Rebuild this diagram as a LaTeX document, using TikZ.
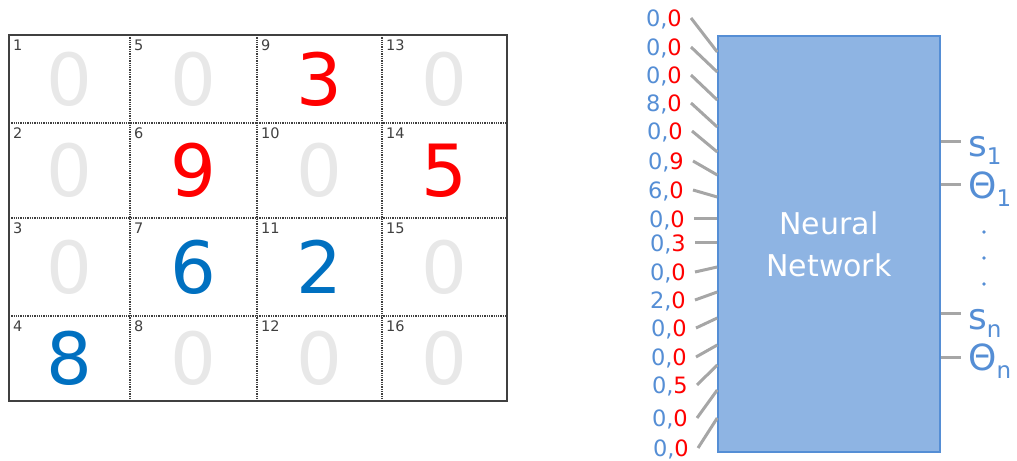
\documentclass[tikz,border=0pt]{standalone}
\usepackage{fontspec}
\setmainfont{DejaVu Sans}
\usepackage{tikz}
\usetikzlibrary{positioning, calc}
\definecolor{digitred}{HTML}{FF0000}
\definecolor{digitblue}{HTML}{0070C0}
\definecolor{digitgrey}{HTML}{E8E8E8}
\definecolor{gridgrey}{HTML}{404040}
\definecolor{netfill}{HTML}{8EB4E3}
\definecolor{netedge}{HTML}{558ED5}
\definecolor{labelblue}{HTML}{558ED5}
\definecolor{wiregrey}{HTML}{A6A6A6}
\newcommand{\px}[1]{\fontsize{#1bp}{#1bp}\selectfont}
\newcommand{\lowsub}[1]{\raisebox{-8bp}{\px{23}#1}}

\begin{document}
\begin{tikzpicture}[x=1bp, y=-1bp,
  cellnum/.style={anchor=north west, inner sep=0pt, font=\px{14.5}, text=gridgrey},
  digit/.style={inner sep=0pt, font=\px{72}},
  gridline/.style={draw=gridgrey, densely dotted, line width=1.3bp},
  inlabel/.style={anchor=east, inner sep=0pt, text height=16.5bp, text depth=0pt,
    font=\px{22.5}, text=labelblue},
  outlabel/.style={anchor=base west, inner sep=0pt, font=\px{36}, text=labelblue},
  wire/.style={draw=wiregrey, line width=3bp},
  dot/.style={circle, fill=labelblue, inner sep=1.4bp},
  net/.style={draw=netedge, line width=1.5bp, fill=netfill,
    minimum width=222bp, minimum height=416bp, text=white, align=center,
    font=\fontsize{30bp}{42bp}\selectfont}]
  \useasboundingbox (0,0) rectangle (1017,461);

  \foreach \x in {130,257,382}
    \draw[gridline] (\x,35) -- (\x,401);
  \foreach \y in {123,218,316}
    \draw[gridline] (9,\y) -- (507,\y);
  \draw[gridgrey, line width=1.6bp] (9,35) rectangle (507,401);

  \foreach \n/\d/\col in {1/0/digitgrey, 2/0/digitgrey, 3/0/digitgrey, 4/8/digitblue,
      5/0/digitgrey, 6/9/digitred, 7/6/digitblue, 8/0/digitgrey,
      9/3/digitred, 10/0/digitgrey, 11/2/digitblue, 12/0/digitgrey,
      13/0/digitgrey, 14/5/digitred, 15/0/digitgrey, 16/0/digitgrey} {
    \pgfmathtruncatemacro{\c}{(\n-1)/4}
    \pgfmathtruncatemacro{\r}{mod(\n-1,4)}
    \pgfmathsetmacro{\xl}{{9,130,257,382,507}[\c]}
    \pgfmathsetmacro{\xr}{{9,130,257,382,507}[\c+1]}
    \pgfmathsetmacro{\yt}{{35,123,218,316,401}[\r]}
    \pgfmathsetmacro{\yb}{{35,123,218,316,401}[\r+1]}
    \node[cellnum] (num\n) at (\xl+4,\yt+5) {\n};
    \node[digit, text=\col] (cell\n) at ({(\xl+\xr)/2},{(\yt+\yb)/2}) {\d};
  }

  \node[net] (nn) at (829,244) {Neural\\Network};

  \foreach \i/\a/\b/\xe/\yc/\e in {1/0/0/682/18/52, 2/0/0/682/47/72, 3/0/0/682/75/100,
      4/8/0/682/103/127, 5/0/0/683/131/152, 6/0/9/684/161/175, 7/6/0/684/190/197,
      8/0/0/685/219/219, 9/0/3/686/243/243, 10/0/0/686/272/267, 11/2/0/686/300/292,
      12/0/0/687/328/318, 13/0/0/687/357/345, 14/0/5/688/385/365, 15/0/0/688/418/390,
      16/0/0/689/448/418} {
    \node[inlabel] (in\i) at (\xe,\yc) {\a,\textcolor{digitred}{\b}};
    \draw[wire] ([xshift=9bp]in\i.east) -- (nn.west |- 0,\e);
  }

  \coordinate (o1) at (961,142);
  \coordinate (o2) at (961,185);
  \coordinate (o3) at (961,314);
  \coordinate (o4) at (961,358);
  \foreach \k in {1,...,4}
    \draw[wire] (nn.east |- o\k) -- (o\k);
  \node[outlabel] (s1) at (968,157) {s\lowsub{1}};
  \node[outlabel] (t1) at (968,199) {Θ\lowsub{1}};
  \node[outlabel] (sn) at (968,330) {s\lowsub{n}};
  \node[outlabel] (tn) at (968,371) {Θ\lowsub{n}};
  \node[dot] (dot1) at (984,232) {};
  \node[dot] (dot2) at (984,258) {};
  \node[dot] (dot3) at (984,284) {};
\end{tikzpicture}
\end{document}
